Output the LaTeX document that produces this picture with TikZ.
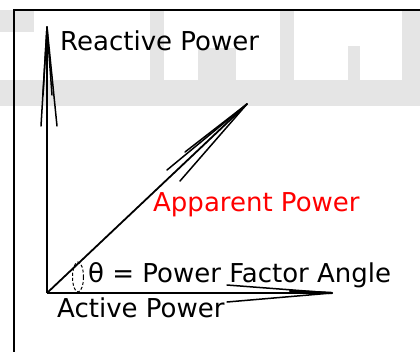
\documentclass[tikz,border=0pt]{standalone}
\usepackage{fontspec}
\setmainfont{DejaVu Sans}
\usepackage{xcolor}
\usepackage{tikz}
\usetikzlibrary{
    positioning, % relative placement
    calc
}
\definecolor{faint}{gray}{0.9}

\begin{document}
\begin{tikzpicture}[x=1pt,y=-1pt]
    % styles
    \tikzstyle{label} = [anchor=base west, inner sep=0pt, font=\fontsize{26}{30}\selectfont]
    \tikzstyle{axis}  = [draw=black, line width=1.8pt]
    \tikzstyle{barb}  = [draw=black, line width=1.5pt, line cap=round]
    \clip (0,0) rectangle (420,351);
    \fill[white] (0,0) rectangle (420,351);
    % faded background
    \fill[faint] (0,80) rectangle (420,106);
    \fill[faint] (0,10) rectangle (34,32);
    \fill[faint] (150,10) rectangle (164,80);
    \fill[faint] (198,48) rectangle (236,80);
    \fill[faint] (280,10) rectangle (294,80);
    \fill[faint] (348,46) rectangle (360,80);
    \fill[faint] (402,10) rectangle (420,80);
    % frame
    \draw[line width=1.6pt] (14,360) -- (14,10) -- (430,10);
    % corners of the triangle
    \coordinate (O) at (47,293);
    \coordinate (Q) at (47,27);
    \coordinate (S) at (247,104);
    \coordinate (P) at (332,293);
    % sides
    \draw[axis] (O) -- (Q);
    \draw[axis] (O) -- (S);
    \draw[axis] (O) -- (P);
    % hand drawn heads
    \coordinate (qa) at (41,126);
    \coordinate (qb) at (57,126);
    \coordinate (qc) at (43,95);
    \coordinate (qd) at (52,95);
    \draw[barb] (Q) -- (qa);
    \draw[barb] (Q) -- (qb);
    \draw[barb] (Q) -- (qc);
    \draw[barb] (Q) -- (qd);
    \coordinate (sa) at (167,170);
    \coordinate (sb) at (180,181);
    \coordinate (sc) at (185,152);
    \draw[barb] (S) -- (sa);
    \draw[barb] (S) -- (sb);
    \draw[barb] (S) -- (sc);
    \coordinate (pa) at (227,285);
    \coordinate (pb) at (227,302);
    \coordinate (pc) at (290,291);
    \draw[barb] (P) -- (pa);
    \draw[barb] (P) -- (pb);
    \draw[barb, line width=2.4pt] (P) -- (pc);
    % angle mark
    \draw[line width=1pt, densely dashed] (78,277) ellipse (5.5 and 15);
    % labels
    \node[label] (reactive) at (60,50) {Reactive Power};
    \node[label, text=red] (apparent) at (153,211) {Apparent Power};
    \node[label] (angle) at (88,282) {θ = Power Factor Angle};
    \node[label] (active) at (57,317) {Active Power};
\end{tikzpicture}
\end{document}
